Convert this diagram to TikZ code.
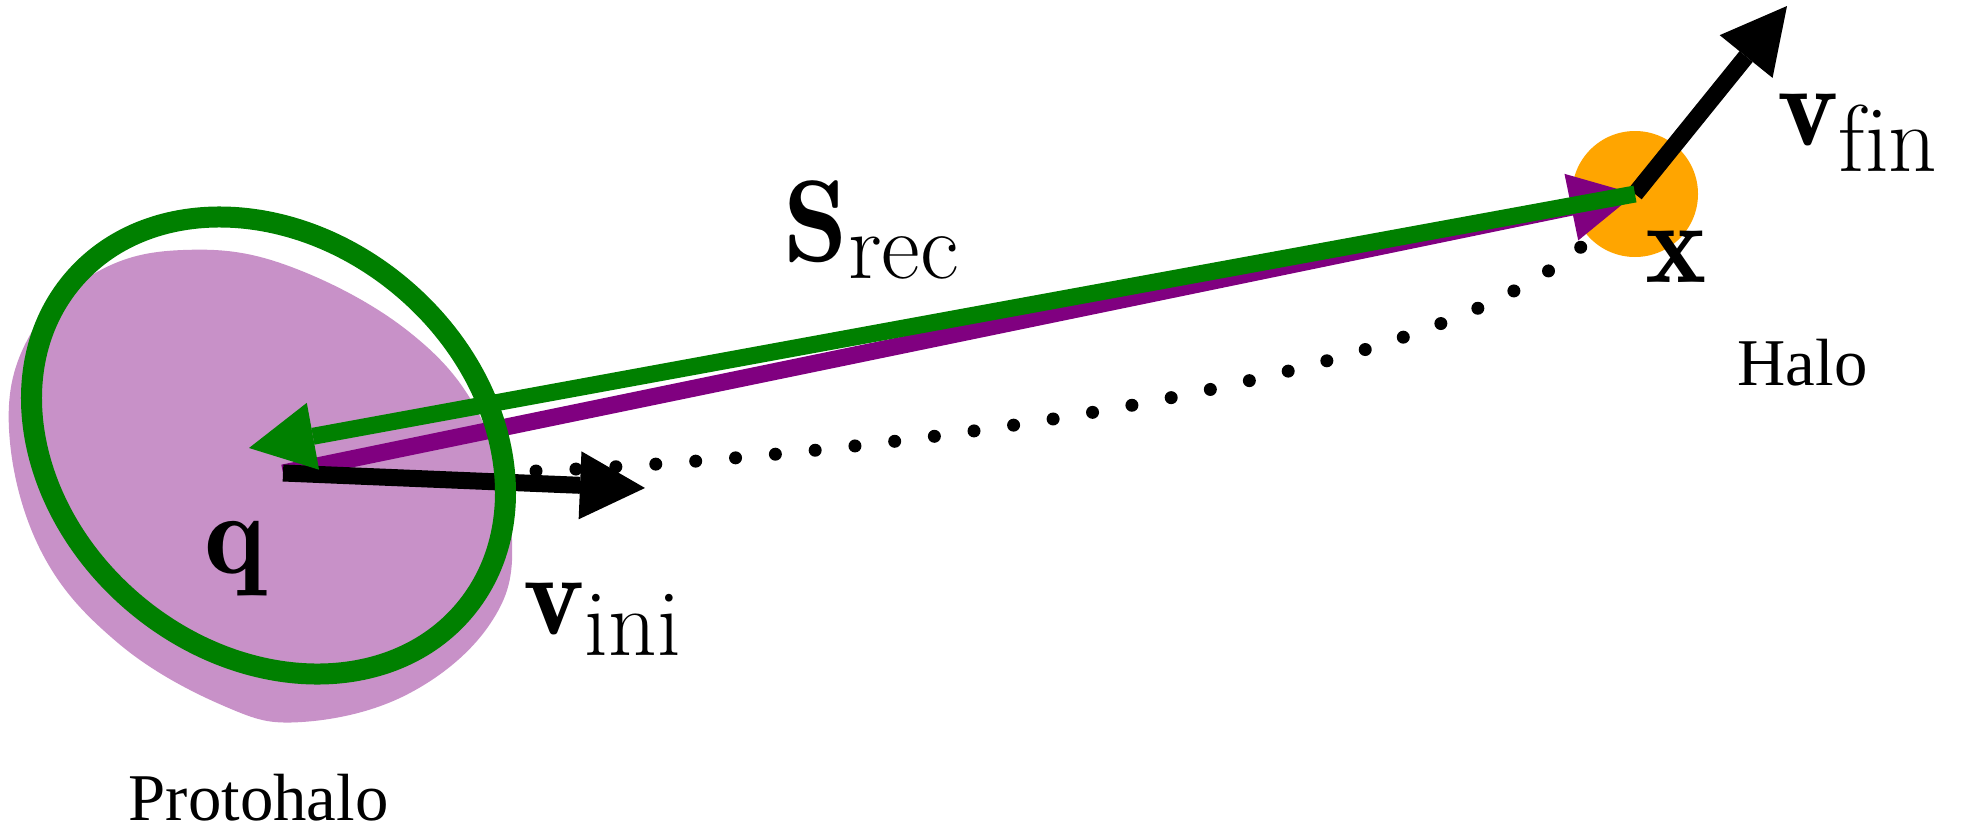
\RequirePackage{fix-cm}
\documentclass[tikz,border=0pt]{standalone}
\usepackage{amsmath,amssymb}
\usepackage{fontspec}
\newfontfamily\labfont{Liberation Serif}
\usepackage{xcolor}
\usepackage{tikz}
\usetikzlibrary{arrows.meta}
\definecolor{blob}{RGB}{200,145,200}
\definecolor{traj}{RGB}{128,0,128}
\definecolor{rec}{RGB}{0,128,0}
\definecolor{halo}{RGB}{255,165,0}
\newcommand{\lsub}[1]{\text{\fontsize{27}{30}\selectfont #1}}

\begin{document}
\begin{tikzpicture}[>={Triangle[length=6.5mm,width=6.8mm,line width=0pt]},
	 lab/.style={inner sep=0pt,font=\fontsize{33}{40}\selectfont},
	 txt/.style={inner sep=0pt,font=\labfont\fontsize{19}{23}\selectfont},
	 vec/.style={line width=1.7mm,->}]
	 \useasboundingbox(0,0)rectangle(19.62,8.36);
	 \coordinate(q)at(2.83,3.63);\coordinate(x)at(16.35,6.42);
	 \coordinate(g)at(2.49,3.88);\coordinate(vi)at(6.45,3.48);\coordinate(vf)at(17.87,8.30);
	 \coordinate(c)at(2.685,3.905);
	 % protohalo and halo
	 \fill[blob]plot[smooth cycle,tension=0.65]coordinates{(0.97,5.64)(1.83,5.86)(2.86,5.71)(4.08,5.05)(4.82,4.16)(5.12,2.97)(4.90,2.12)(4.08,1.42)(3.02,1.14)(2.24,1.30)(1.18,1.93)(0.41,2.85)(0.09,4.07)(0.30,5.01)};
	 \fill[halo](x)circle(0.63);
	 % vectors
	 \draw[vec,traj](q)--(x);
	 \draw[vec](q)--(vi);
	 \draw[vec](x)--(vf);
	 \draw[vec,rec](x)--(g);
	 \draw[rec,line width=2.1mm,rotate around={-40:(c)}](c)ellipse(2.56 and 2.07);
	 % trajectory
	 \draw[line width=1.3mm,line cap=round,dash pattern=on 0pt off 4mm](5.36,3.65)..controls(9.00,3.81)and(14.20,4.51)..(15.81,5.89);
	 \node[lab,anchor=base west](srec)at(7.83,5.75){$\mathbf{S}_{\lsub{rec}}$};
	 \node[lab,anchor=base west](vini)at(5.23,2.02){$\mathbf{v}_{\lsub{ini}}$};
	 \node[lab,anchor=base west](vfin)at(17.77,6.91){$\mathbf{v}_{\lsub{f\kern0pt{}in}}$};
	 \node[lab,anchor=base west](qlab)at(2.04,2.63){$\mathbf{q}$};
	 \node[lab,anchor=base west](xlab)at(16.45,5.54){$\mathbf{x}$};
	 \node[txt,anchor=base west](halolab)at(17.37,4.51){Halo};
	 \node[txt,anchor=base west](protolab)at(1.28,0.16){Protohalo};
\end{tikzpicture}
\end{document}
